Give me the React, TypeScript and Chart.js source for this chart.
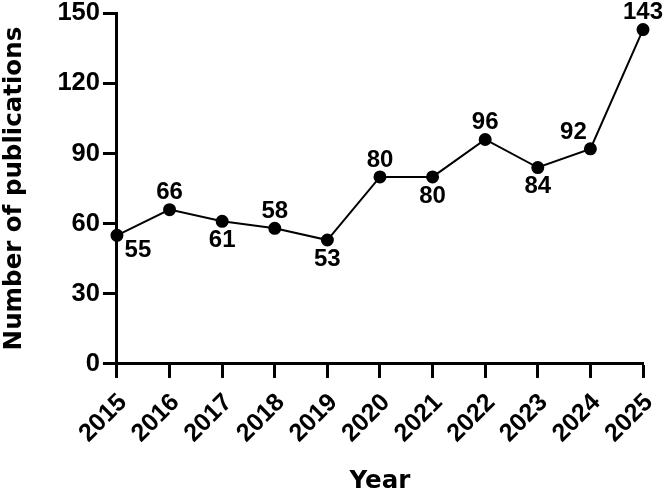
import React, { useEffect, useRef } from "react";
import { Chart, registerables } from "chart.js";

Chart.register(...registerables);

const years = ["2015", "2016", "2017", "2018", "2019", "2020", "2021", "2022", "2023", "2024", "2025"];
const publications = [55, 66, 61, 58, 53, 80, 80, 96, 84, 92, 143];
const labelPlacement = ["belowRight", "above", "below", "above", "below", "above", "below", "above", "below", "aboveLeft", "above"];
const yTicks = [0, 30, 60, 90, 120, 150];

const FONT = "'Liberation Sans', Arial, Helvetica, sans-serif";
const TITLE_FONT = "'DejaVu Sans', Verdana, sans-serif";

const offsets: Record<string, [number, number]> = {
  above: [0, -17],
  below: [0, 19],
  belowRight: [21, 15],
  aboveLeft: [-17, -16],
};

const valueLabels = {
  id: "valueLabels",
  afterDatasetsDraw(chart: any) {
    const ctx = chart.ctx;
    const meta = chart.getDatasetMeta(0);
    ctx.save();
    ctx.font = `bold 24px ${FONT}`;
    ctx.fillStyle = "#000";
    ctx.textAlign = "center";
    ctx.textBaseline = "middle";
    meta.data.forEach((pt: any, i: number) => {
      const [dx, dy] = offsets[labelPlacement[i]] || [0, -17];
      ctx.fillText(String(publications[i]), pt.x + dx, pt.y + dy);
    });
    ctx.restore();
  },
};

export default function App() {
  const ref = useRef<HTMLCanvasElement | null>(null);
  useEffect(() => {
    if (!ref.current) return;
    const chart = new Chart(ref.current, {
      type: "line",
      data: {
        labels: years,
        datasets: [
          {
            data: publications,
            borderColor: "#000",
            backgroundColor: "#000",
            borderWidth: 2,
            pointRadius: 5.5,
            pointBackgroundColor: "#000",
            pointBorderColor: "#000",
            tension: 0,
            clip: false as any,
          },
        ],
      },
      options: {
        animation: false,
        responsive: false,
        maintainAspectRatio: false,
        layout: { padding: { top: 0, right: 0, bottom: 0, left: 0 } },
        plugins: { legend: { display: false }, tooltip: { enabled: false } },
        scales: {
          x: {
            type: "category",
            offset: false,
            afterFit: (scale: any) => {
              scale.paddingRight = 20;
            },
            grid: {
              display: true,
              drawOnChartArea: false,
              drawTicks: true,
              tickLength: 14,
              tickWidth: 3,
              tickColor: "#000",
            },
            border: { display: true, width: 3, color: "#000" },
            ticks: {
              minRotation: 45,
              maxRotation: 45,
              padding: 10,
              labelOffset: 6,
              color: "#000",
              font: { family: FONT, size: 25, weight: "bold" },
            },
            title: {
              display: true,
              text: "Year",
              color: "#000",
              font: { family: TITLE_FONT, size: 24.5, weight: "bold", lineHeight: 1.0 },
              padding: { top: 11, bottom: 0 },
            },
          },
          y: {
            min: 0,
            max: 150,
            afterBuildTicks: (axis: any) => {
              axis.ticks = yTicks.map((v) => ({ value: v }));
            },
            grid: {
              display: true,
              drawOnChartArea: false,
              drawTicks: true,
              tickLength: 14,
              tickWidth: 3,
              tickColor: "#000",
            },
            border: { display: true, width: 3, color: "#000" },
            ticks: {
              padding: 3,
              color: "#000",
              font: { family: FONT, size: 25.5, weight: "bold", lineHeight: 0.8 },
            },
            title: {
              display: true,
              text: "Number of publications",
              color: "#000",
              font: { family: TITLE_FONT, size: 24.5, weight: "bold" },
              padding: { top: 0, bottom: 25 },
            },
          },
        },
      },
      plugins: [valueLabels],
    });
    return () => chart.destroy();
  }, []);
  return (
    <div style={{ position: "fixed", left: 0, top: 0, width: 663, height: 494, background: "#fff" }}>
      <canvas ref={ref} width={663} height={494} style={{ width: 663, height: 494 }} />
    </div>
  );
}
